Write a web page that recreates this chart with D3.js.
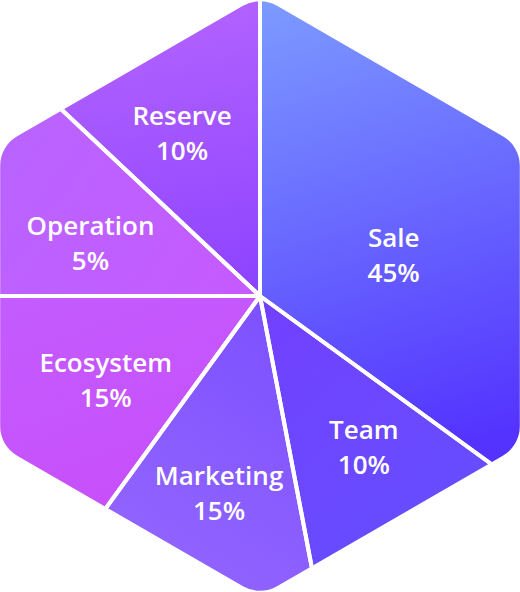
<!DOCTYPE html>
<html>
<head>
<meta charset="utf-8">
<script src="https://cdn.jsdelivr.net/npm/d3@7"></script>
<style>
  html, body { margin: 0; padding: 0; background: #ffffff; }
  svg { display: block; }
</style>
</head>
<body>
<div id="chart"></div>
<script>
// ---- data ----
const categories   = ["Sale", "Team", "Marketing", "Ecosystem", "Operation", "Reserve"];
const labelShares  = [45, 10, 15, 15, 5, 10];          // percentages printed in the labels
const sliceWeights = [35, 12, 13, 15, 12, 13];         // angular share of each slice as drawn

// ---- styles / layout ----
const sliceColors = [
  ["#7d9cff", "#5433ff"],
  ["#7240ff", "#6450ff"],
  ["#7a4fff", "#9668ff"],
  ["#c35cff", "#c750fa"],
  ["#b864ff", "#c65aff"],
  ["#b463ff", "#8c43ff"]
];
const gradDir = [
  [0.0, 0.0, 0.55, 1.0],
  [0.0, 0.0, 1.0, 1.0],
  [1.0, 0.0, 0.0, 1.0],
  [0.0, 0.0, 0.3, 1.0],
  [0.0, 0.0, 1.0, 1.0],
  [0.6, 0.0, 0.9, 1.0]
];
const labelNudge = [[2, 24], [10, 5], [-7, 22], [3, 2], [-3, 17], [-12, -1]];

const W = 520, H = 592, cx = 260, cy = 296, R = 300, corner = 34;
const apothem = R * Math.cos(Math.PI / 6);

const svg = d3.select("#chart").append("svg")
  .attr("width", W).attr("height", H);
const defs = svg.append("defs");

// rounded hexagon (pointy top), center-relative
const verts = d3.range(6).map(i => {
  const a = (-90 + 60 * i) * Math.PI / 180;
  return [R * Math.cos(a), R * Math.sin(a)];
});
const t = corner / Math.tan(Math.PI / 3);
let dPath = "";
verts.forEach((v, i) => {
  const p = verts[(i + 5) % 6], n = verts[(i + 1) % 6];
  const lp = Math.hypot(p[0] - v[0], p[1] - v[1]);
  const ln = Math.hypot(n[0] - v[0], n[1] - v[1]);
  const A = [v[0] + t * (p[0] - v[0]) / lp, v[1] + t * (p[1] - v[1]) / lp];
  const B = [v[0] + t * (n[0] - v[0]) / ln, v[1] + t * (n[1] - v[1]) / ln];
  dPath += (i === 0 ? "M" : "L") + A[0] + "," + A[1] + "A" + corner + "," + corner + " 0 0 1 " + B[0] + "," + B[1];
});
dPath += "Z";

defs.append("clipPath").attr("id", "hexClip")
  .append("path").attr("d", dPath);

const g = svg.append("g").attr("transform", `translate(${cx},${cy})`);

const pie = d3.pie().sort(null).value(i => sliceWeights[i]);
const arcs = pie(d3.range(categories.length));
const arc = d3.arc().innerRadius(0).outerRadius(R * 1.5);

// point where a ray at d3-angle th leaves the (sharp) hexagon
function hexEdgePoint(th) {
  const deg = th * 180 / Math.PI;
  const nDeg = 30 + 60 * Math.round((deg - 30) / 60);
  const dist = apothem / Math.cos((deg - nDeg) * Math.PI / 180);
  return [dist * Math.sin(th), -dist * Math.cos(th)];
}
function slicePolygon(d) {
  const pts = [[0, 0], hexEdgePoint(d.startAngle)];
  for (let k = 0; k < 6; k++) {
    const va = k * Math.PI / 3;
    if (va > d.startAngle + 1e-6 && va < d.endAngle - 1e-6) pts.push(verts[k]);
  }
  pts.push(hexEdgePoint(d.endAngle));
  return pts;
}

arcs.forEach((d, i) => {
  const poly = slicePolygon(d);
  const xs = poly.map(p => p[0]), ys = poly.map(p => p[1]);
  const x0 = d3.min(xs), x1 = d3.max(xs), y0 = d3.min(ys), y1 = d3.max(ys);
  const gd = gradDir[i];
  const lg = defs.append("linearGradient").attr("id", "grad" + i)
    .attr("gradientUnits", "userSpaceOnUse")
    .attr("x1", x0 + gd[0] * (x1 - x0)).attr("y1", y0 + gd[1] * (y1 - y0))
    .attr("x2", x0 + gd[2] * (x1 - x0)).attr("y2", y0 + gd[3] * (y1 - y0));
  lg.append("stop").attr("offset", 0).attr("stop-color", sliceColors[i][0]);
  lg.append("stop").attr("offset", 1).attr("stop-color", sliceColors[i][1]);
  d.poly = poly;
});

const clipped = g.append("g").attr("clip-path", "url(#hexClip)");

clipped.selectAll("path.slice")
  .data(arcs)
  .join("path")
  .attr("class", "slice")
  .attr("d", arc)
  .attr("fill", (d, i) => `url(#grad${i})`);

clipped.selectAll("path.sep")
  .data(arcs)
  .join("path")
  .attr("class", "sep")
  .attr("d", arc)
  .attr("fill", "none")
  .attr("stroke", "#ffffff")
  .attr("stroke-width", 4)
  .attr("stroke-linejoin", "round");

// labels
const labels = g.selectAll("text.lbl")
  .data(arcs)
  .join("text")
  .attr("class", "lbl")
  .attr("text-anchor", "middle")
  .attr("fill", "#ffffff")
  .style("font-family", "'Open Sans', 'Noto Sans', sans-serif")
  .style("font-weight", 600)
  .style("font-size", "26px");

labels.each(function (d, i) {
  const c = d3.polygonCentroid(d.poly);
  const x = c[0] + labelNudge[i][0];
  const y = c[1] + labelNudge[i][1];
  const el = d3.select(this);
  el.append("tspan").attr("x", x).attr("y", y - 8).text(categories[i]);
  el.append("tspan").attr("x", x).attr("y", y + 27).text(labelShares[i] + "%");
});
</script>
</body>
</html>
